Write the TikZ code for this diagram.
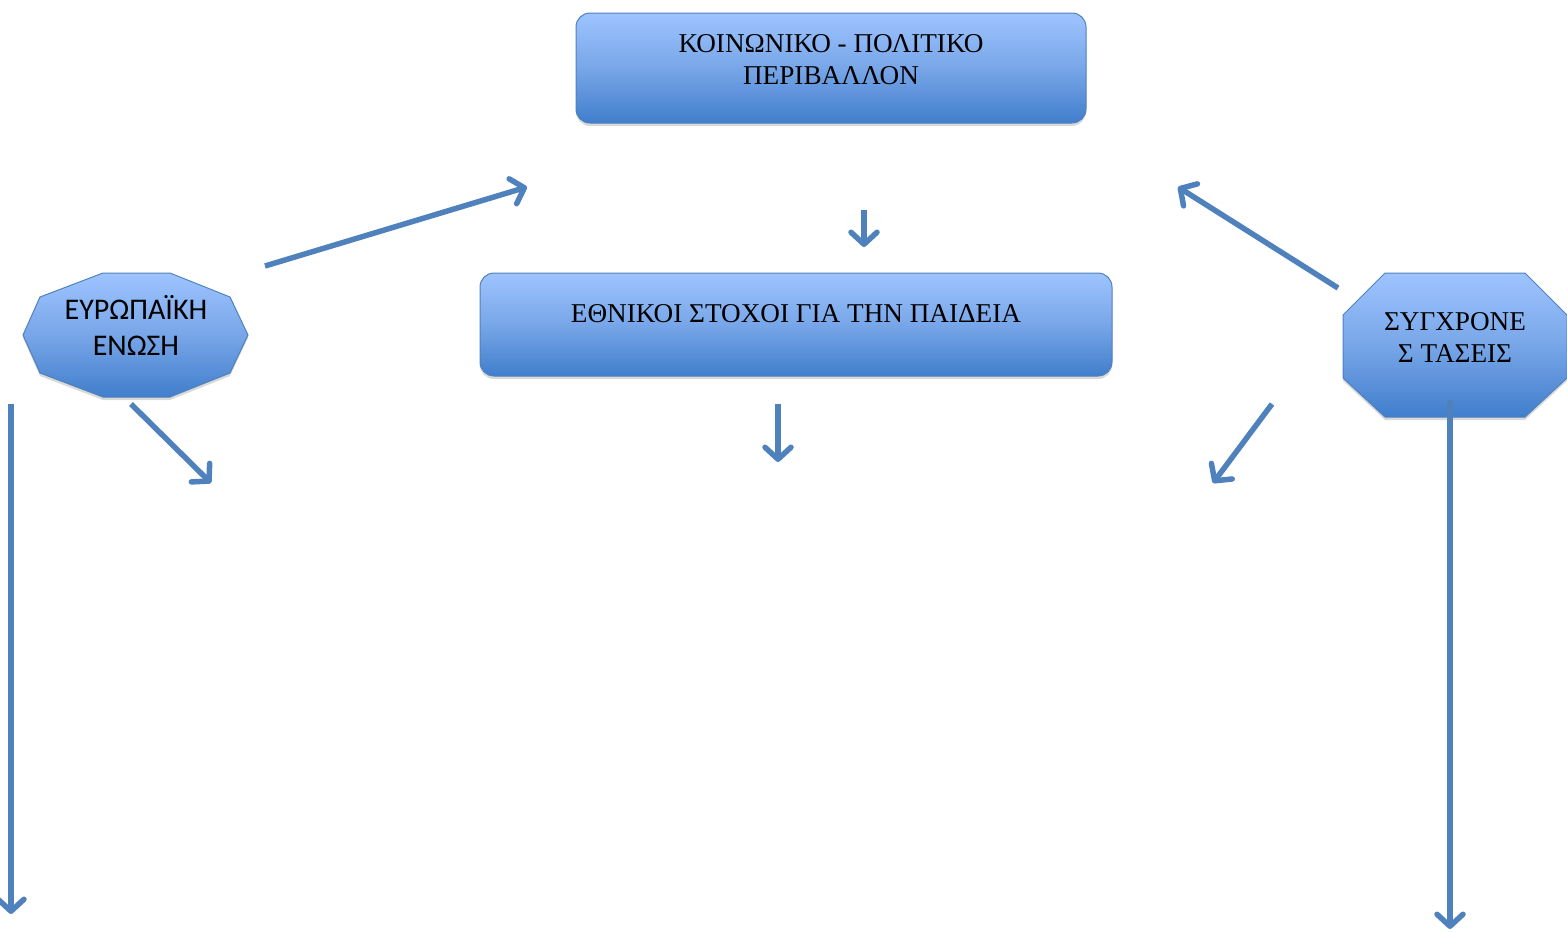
\documentclass[tikz,border=0pt]{standalone}
\usepackage{fontspec}
\setmainfont{Liberation Serif}
\newfontfamily\calfont{Carlito}
\usetikzlibrary{arrows.meta,shadows}
\definecolor{arrowblue}{RGB}{79,129,189}
\definecolor{boxtop}{RGB}{158,196,255}
\definecolor{boxmid}{RGB}{120,166,232}
\definecolor{boxbot}{RGB}{64,126,204}
\definecolor{boxline}{RGB}{79,129,189}
\begin{document}
\begin{tikzpicture}[x=1pt,y=-1pt,
  shade/.style={draw=boxline, line width=1pt, top color=boxtop, bottom color=boxbot, middle color=boxmid,
    drop shadow={shadow xshift=0pt,shadow yshift=-3pt,opacity=0.15,fill=black}},
  box/.style={shade, rounded corners=14pt, inner sep=0pt},
  serif text/.style={align=center, inner sep=0pt, font=\fontsize{27.2}{32}\selectfont},
  sans text/.style={align=center, inner sep=0pt, font=\calfont\fontsize{30}{36}\selectfont},
  flow/.style={draw=arrowblue, line width=5.5pt,
    -{Straight Barb[length=12pt,width=26pt,line cap=round,line join=round]}},
]
\useasboundingbox (0,0) rectangle (1567,932);

% boxes
\node[box, minimum width=510pt, minimum height=110pt] (env) at (831,68) {};
\node[serif text] (envtext) at (831,60) {ΚΟΙΝΩΝΙΚΟ - ΠΟΛΙΤΙΚΟ\\ΠΕΡΙΒΑΛΛΟΝ};

\node[box, minimum width=632pt, minimum height=103pt] (goals) at (796,324.5) {};
\node[serif text] (goalstext) at (796,314) {ΕΘΝΙΚΟΙ ΣΤΟΧΟΙ ΓΙΑ ΤΗΝ ΠΑΙΔΕΙΑ};

% European Union decagon
\path[shade] (103,273) -- (170,273) -- (230,297) -- (248,335) -- (230,373)
  -- (170,397) -- (103,397) -- (40,373) -- (23,335) -- (40,297) -- cycle;
\node[sans text] (eu) at (136,325) {ΕΥΡΩΠΑΪΚΗ\\ΕΝΩΣΗ};

% Trends octagon
\path[shade] (1385,273) -- (1525,273) -- (1567,315) -- (1567,378) -- (1525,417)
  -- (1385,417) -- (1343,378) -- (1343,315) -- cycle;
\node[serif text] (trends) at (1455,337.5) {ΣΥΓΧΡΟΝΕ\\Σ ΤΑΣΕΙΣ};

% arrow end points
\coordinate (a1s) at (265,266);   \coordinate (a1e) at (527,187);
\coordinate (a2s) at (864,210);   \coordinate (a2e) at (864,247);
\coordinate (a3s) at (1338,288);  \coordinate (a3e) at (1178,187);
\coordinate (a4s) at (131,404);   \coordinate (a4e) at (211,483);
\coordinate (a5s) at (778,404);   \coordinate (a5e) at (778,462);
\coordinate (a6s) at (1272,404);  \coordinate (a6e) at (1213,483);
\coordinate (a7s) at (11,404);    \coordinate (a7e) at (11,914);
\coordinate (a8s) at (1450,400);  \coordinate (a8e) at (1450,929);

\draw[flow] (a1s) -- (a1e);
\draw[flow] (a2s) -- (a2e);
\draw[flow] (a3s) -- (a3e);
\draw[flow] (a4s) -- (a4e);
\draw[flow] (a5s) -- (a5e);
\draw[flow] (a6s) -- (a6e);
\draw[flow] (a7s) -- (a7e);
\draw[flow] (a8s) -- (a8e);
\end{tikzpicture}
\end{document}
